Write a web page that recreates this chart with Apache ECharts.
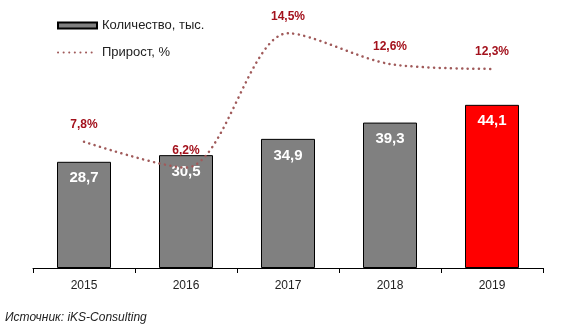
<!DOCTYPE html>
<html><head><meta charset="utf-8">
<script src="https://cdn.jsdelivr.net/npm/echarts@6/dist/echarts.min.js"></script>
<style>html,body{margin:0;padding:0;background:#fff}#c{width:568px;height:331px}</style>
</head><body><div id="c"></div>
<script>
const categories = ['2015', '2016', '2017', '2018', '2019'];
const quantity = [28.7, 30.5, 34.9, 39.3, 44.1];
const growth = [7.8, 6.2, 14.5, 12.6, 12.3];
const barColors = ['#808080', '#808080', '#808080', '#808080', '#ff0000'];
const seriesNames = ['Количество, тыс.', 'Прирост, %'];
const sourceText = 'Источник: iKS-Consulting';

const fmt = v => String(v.toFixed(1)).replace('.', ',');
const chart = echarts.init(document.getElementById('c'), null, {renderer: 'canvas'});
const FONT = 'Liberation Sans Narrow, Arial Narrow, Liberation Sans, Arial, sans-serif';
chart.setOption({
  animation: false,
  backgroundColor: '#fff',
  grid: {left: 33, right: 25, top: 9, bottom: 63, containLabel: false},
  legend: {
    orient: 'vertical', left: 52, top: 14, itemGap: 14, itemWidth: 39, itemHeight: 6,
    textStyle: {fontFamily: 'Liberation Sans, Arial, sans-serif', fontSize: 13, color: '#222'},
    data: [{name: seriesNames[0], icon: 'rect'}, {name: seriesNames[1]}]
  },
  graphic: [{type: 'text', left: 5, top: 312, style: {text: sourceText, fill: '#222', font: 'italic 12px Liberation Sans, Arial, sans-serif'}}],
  xAxis: {
    type: 'category', data: categories, boundaryGap: true,
    axisLine: {lineStyle: {color: '#000', width: 1}},
    axisTick: {show: true, length: 5, inside: false, lineStyle: {color: '#000'}},
    axisLabel: {color: '#222', fontSize: 12, fontFamily: 'Liberation Sans, Arial, sans-serif', margin: 12}
  },
  yAxis: [
    {type: 'value', min: 0, max: 70, show: false, splitLine: {show: false}},
    {type: 'value', min: 0, max: 16, show: false, splitLine: {show: false}}
  ],
  series: [
    {
      name: seriesNames[0], type: 'bar', barWidth: 54, yAxisIndex: 0,
      data: quantity.map((v, i) => ({value: v, itemStyle: {color: barColors[i]}})),
      itemStyle: {color: '#808080', borderColor: '#000', borderWidth: 1},
      label: {show: true, position: 'insideTop', distance: 9, color: '#fff', fontWeight: 'bold', fontSize: 15, fontFamily: FONT, formatter: p => fmt(p.value)},
      z: 1
    },
    {
      name: seriesNames[1], type: 'line', yAxisIndex: 1, smooth: 0.3,
      symbol: 'circle', symbolSize: 2, showSymbol: true,
      data: growth,
      lineStyle: {color: '#a05a5a', width: 2.5, type: [0.1, 5.5], cap: 'round'},
      itemStyle: {color: 'rgba(160,90,90,0)', borderWidth: 0},
      label: {show: true, position: 'top', distance: 10, color: '#a3111c', fontWeight: 'bold', fontSize: 12, fontFamily: FONT, formatter: p => fmt(p.value) + '%'},
      labelLayout: {hideOverlap: false},
      z: 3
    }
  ]
});
</script></body></html>
